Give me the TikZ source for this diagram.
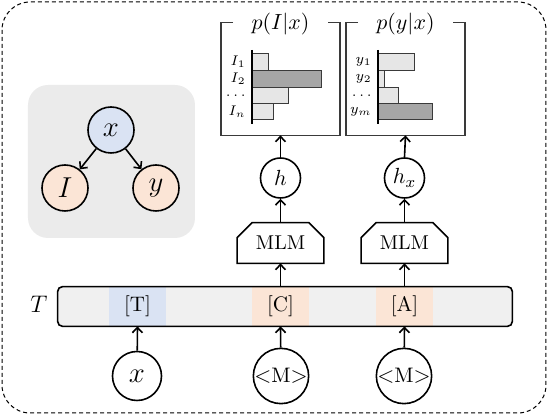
\documentclass[tikz,border=0pt]{standalone}
\usetikzlibrary{arrows.meta}
\definecolor{graybg}{HTML}{EBEBEB}
\definecolor{blueF}{HTML}{DAE3F3}
\definecolor{peachF}{HTML}{FBE5D6}
\definecolor{barbg}{HTML}{F0F0F0}
\definecolor{lightbar}{HTML}{E6E6E6}
\definecolor{darkbar}{HTML}{A6A6A6}
\definecolor{boxline}{HTML}{3A3A3A}
\begin{document}
\begin{tikzpicture}[x=0.5pt,y=-0.5pt,
  circ/.style={circle,draw,line width=0.8pt,inner sep=0pt},
  bigcirc/.style={circ,minimum size=23pt,font=\fontsize{14.5}{16}\selectfont},
  hcirc/.style={circ,minimum size=20pt,font=\fontsize{11}{12}\selectfont},
  incirc/.style={circ,minimum size=25pt,font=\fontsize{10.5}{12}\selectfont},
  arr/.style={-{Straight Barb[length=2.6pt,width=5pt]},line width=0.8pt},
  mlmbox/.style={minimum width=43pt,minimum height=20pt,inner sep=0pt,font=\fontsize{10}{11}\selectfont},
  tok/.style={minimum width=28.5pt,minimum height=19.5pt,inner sep=0pt,font=\fontsize{10.5}{12}\selectfont},
  histbox/.style={minimum width=59pt,minimum height=56pt,inner sep=0pt},
  boxedge/.style={draw=boxline,line width=0.75pt},
  lbar/.style={draw=boxline,line width=0.5pt,fill=lightbar},
  dbar/.style={draw=boxline,line width=0.5pt,fill=darkbar},
  axisline/.style={line width=1.3pt},
  hlabel/.style={anchor=east,inner sep=0pt,font=\fontsize{7.5}{8}\selectfont},
  htitle/.style={font=\fontsize{11}{12}\selectfont},
]
\useasboundingbox (0,0) rectangle (548,416);
% outer dashed frame
\draw[dashed,dash pattern=on 2pt off 1.5pt,line width=0.5pt,rounded corners=14pt] (2,2) rectangle (546,413);

% graphical model panel
\fill[graybg,rounded corners=10pt] (28,85) rectangle (195,238);
\node[bigcirc,fill=blueF] (gx) at (111,130) {$x$};
\node[bigcirc,fill=peachF] (gI) at (65,188) {$I$};
\node[bigcirc,fill=peachF] (gy) at (156,188) {$y$};
\draw[arr] (gx) -- (gI);
\draw[arr] (gx) -- (gy);

% token bar
\node[fill=barbg,rounded corners=2.5pt,minimum width=227pt,minimum height=19.5pt,inner sep=0pt] (bar) at (285,306.5) {};
\node[tok,fill=blueF] (tokT) at (137.5,306.5) {[T]};
\node[tok,fill=peachF] (tokC) at (280.5,306.5) {[C]};
\node[tok,fill=peachF] (tokA) at (404.5,306.5) {[A]};
\draw[line width=0.8pt,rounded corners=2.5pt] (bar.south west) rectangle (bar.north east);
\node[font=\fontsize{13}{15}\selectfont] (Tlab) at (39,304) {$T$};

% inputs
\node[bigcirc,minimum size=24.5pt] (inx) at (137,376) {$x$};
\node[incirc] (inM1) at (281,376) {{$<$}M{$>$}};
\node[incirc] (inM2) at (404,376) {{$<$}M{$>$}};
\draw[arr] (inx) -- (tokT.south);
\draw[arr] (inM1) -- (tokC.south);
\draw[arr] (inM2) -- (tokA.south);

% MLM blocks
\node[mlmbox] (m1) at (280.5,243) {MLM};
\node[mlmbox] (m2) at (404.5,243) {MLM};
\foreach \m in {m1,m2}{
  \draw[line width=0.8pt] (\m.south west) -- ([yshift=-7.5pt]\m.north west) -- ([xshift=7.5pt]\m.north west)
    -- ([xshift=-7.5pt]\m.north east) -- ([yshift=-7.5pt]\m.north east) -- (\m.south east) -- cycle;
}
\draw[arr] (tokC.north) -- (m1.south);
\draw[arr] (tokA.north) -- (m2.south);

% hidden states
\node[hcirc] (h1) at (280.5,178) {$h$};
\node[hcirc] (h2) at (404.5,178) {$h_x$};
\draw[arr] (m1.north) -- (h1.south);
\draw[arr] (m2.north) -- (h2.south);

% histogram boxes
\node[histbox] (b1) at (280.5,79) {};
\node[histbox] (b2) at (405.5,79) {};
\foreach \b in {b1,b2}{
  \draw[boxedge] ([xshift=6pt]\b.north west) -- (\b.north west) -- (\b.south west) -- (\b.south east) -- (\b.north east) -- ([xshift=-6pt]\b.north east);
}
\node[htitle] (t1) at (280.5,24) {$p(I|x)$};
\node[htitle] (t2) at (405.5,24) {$p(y|x)$};
\draw[arr] (h1.north) -- (b1.south);
\draw[arr] (h2.north) -- (b2.south);

% left histogram
\draw[lbar] (252,54) rectangle (269,71);
\draw[dbar] (252,71) rectangle (322,88);
\draw[lbar] (252,88) rectangle (289,104);
\draw[lbar] (252,104) rectangle (274,120);
\draw[axisline] (252,50) -- (252,124);
\node[hlabel] (l1) at (246,62) {$I_1$};
\node[hlabel] (l2) at (246,78.5) {$I_2$};
\node[hlabel] (l3) at (246,96) {$\dots$};
\node[hlabel] (l4) at (246,112) {$I_n$};

% right histogram
\draw[lbar] (378,54) rectangle (415,71);
\draw[lbar] (378,71) rectangle (385,88);
\draw[lbar] (378,88) rectangle (399,104);
\draw[dbar] (378,104) rectangle (433,120);
\draw[axisline] (378,50) -- (378,124);
\node[hlabel] (r1) at (372,62) {$y_1$};
\node[hlabel] (r2) at (372,78.5) {$y_2$};
\node[hlabel] (r3) at (372,96) {$\dots$};
\node[hlabel] (r4) at (372,112) {$y_m$};
\end{tikzpicture}
\end{document}
